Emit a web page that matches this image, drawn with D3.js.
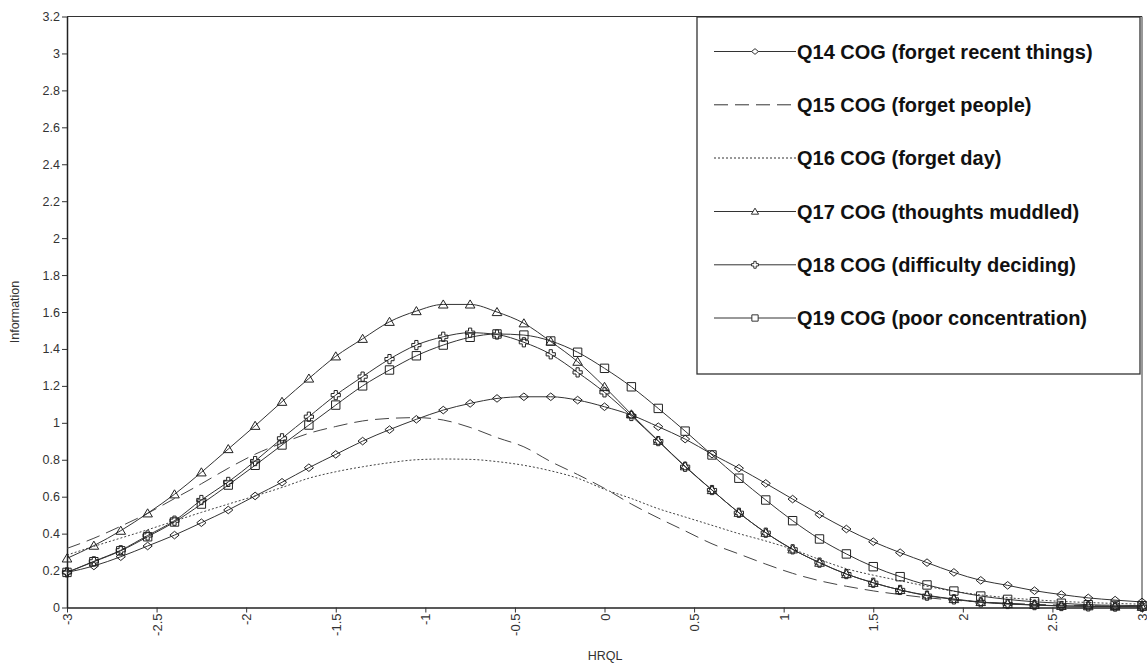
<!DOCTYPE html>
<html>
<head>
<meta charset="utf-8">
<script src="https://cdn.jsdelivr.net/npm/d3@7"></script>
<style>
html,body{margin:0;padding:0;background:#fff;}
svg{display:block;font-family:"Liberation Sans",Arial,sans-serif;}
</style>
</head>
<body>
<svg id="chart" width="1147" height="664"></svg>
<script>
// ---- data ----
const thetas = [-3,-2.85,-2.7,-2.55,-2.4,-2.25,-2.1,-1.95,-1.8,-1.65,-1.5,-1.35,-1.2,-1.05,-0.9,-0.75,-0.6,-0.45,-0.3,-0.15,0,0.15,0.3,0.45,0.6,0.75,0.9,1.05,1.2,1.35,1.5,1.65,1.8,1.95,2.1,2.25,2.4,2.55,2.7,2.85,3];
const q14 = [0.19,0.225,0.275,0.333,0.392,0.459,0.528,0.604,0.678,0.757,0.829,0.901,0.963,1.019,1.069,1.105,1.132,1.141,1.141,1.123,1.087,1.042,0.979,0.912,0.83,0.754,0.672,0.587,0.504,0.425,0.356,0.297,0.243,0.19,0.147,0.12,0.091,0.07,0.052,0.04,0.03];
const q15 = [0.32,0.375,0.44,0.51,0.59,0.67,0.754,0.83,0.89,0.943,0.98,1.01,1.024,1.028,1.015,0.975,0.92,0.87,0.79,0.72,0.645,0.56,0.485,0.415,0.345,0.29,0.235,0.185,0.145,0.115,0.09,0.07,0.053,0.04,0.03,0.023,0.017,0.013,0.01,0.007,0.005];
const q16 = [0.284,0.331,0.376,0.421,0.468,0.515,0.56,0.604,0.65,0.70,0.735,0.762,0.784,0.80,0.804,0.802,0.79,0.77,0.74,0.70,0.64,0.59,0.535,0.49,0.445,0.40,0.36,0.315,0.26,0.21,0.175,0.145,0.115,0.088,0.068,0.053,0.042,0.033,0.027,0.022,0.018];
const q17 = [0.266,0.335,0.416,0.51,0.613,0.732,0.858,0.984,1.114,1.24,1.36,1.455,1.547,1.605,1.641,1.641,1.60,1.539,1.44,1.331,1.195,1.046,0.903,0.765,0.636,0.513,0.405,0.315,0.243,0.181,0.134,0.095,0.066,0.046,0.03,0.02,0.014,0.009,0.007,0.005,0.004];
const q18 = [0.19,0.25,0.31,0.39,0.47,0.582,0.68,0.793,0.916,1.033,1.15,1.25,1.345,1.421,1.466,1.488,1.478,1.436,1.371,1.273,1.165,1.037,0.901,0.762,0.636,0.513,0.405,0.315,0.243,0.181,0.134,0.095,0.064,0.044,0.028,0.019,0.013,0.008,0.006,0.005,0.004];
const q19 = [0.19,0.248,0.307,0.383,0.463,0.56,0.663,0.77,0.88,0.988,1.096,1.2,1.286,1.363,1.421,1.463,1.481,1.475,1.443,1.382,1.295,1.195,1.078,0.955,0.826,0.70,0.582,0.47,0.371,0.29,0.221,0.167,0.122,0.089,0.062,0.044,0.031,0.023,0.015,0.012,0.01];
const seriesNames = ["Q14 COG (forget recent things)","Q15 COG (forget people)","Q16 COG (forget day)","Q17 COG (thoughts muddled)","Q18 COG (difficulty deciding)","Q19 COG (poor concentration)"];
const xTicks = [-3,-2.5,-2,-1.5,-1,-0.5,0,0.5,1,1.5,2,2.5,3];
const yTicks = [0,0.2,0.4,0.6,0.8,1,1.2,1.4,1.6,1.8,2,2.2,2.4,2.6,2.8,3,3.2];
const xLabel = "HRQL";
const yLabel = "Information";

// ---- styles ----
const styles = [
  {marker:"diamond", dash:null},
  {marker:null, dash:"14,7"},
  {marker:null, dash:"2,2"},
  {marker:"triangle", dash:null},
  {marker:"cross", dash:null},
  {marker:"square", dash:null}
];
const series = [q14,q15,q16,q17,q18,q19];

const svg = d3.select("#chart");
const x = d3.scaleLinear().domain([-3,3]).range([67,1142]);
const y = d3.scaleLinear().domain([0,3.2]).range([607.5,16.5]);

function markerPath(type, s){
  s = s || 1;
  if(type==="diamond"){const w=4.6*s,h=3.8*s;return `M${-w},0L0,${-h}L${w},0L0,${h}Z`;}
  if(type==="triangle"){const w=4.8*s,h=4.5*s;return `M0,${-h}L${w},${h*0.8}L${-w},${h*0.8}Z`;}
  if(type==="square"){const a=4.2*s;return `M${-a},${-a}H${a}V${a}H${-a}Z`;}
  if(type==="cross"){const a=4.6*s,b=1.6*s;return `M${-b},${-a}H${b}V${-b}H${a}V${b}H${b}V${a}H${-b}V${b}H${-a}V${-b}H${-b}Z`;}
  return "";
}

// frame
const frame = svg.append("g");
frame.append("line").attr("x1",x(-3)).attr("x2",x(3)).attr("y1",y(3.2)).attr("y2",y(3.2)).attr("stroke","#333");
frame.append("line").attr("x1",x(3)).attr("x2",x(3)).attr("y1",y(3.2)).attr("y2",y(0)).attr("stroke","#333");

// axes
const xAxis = svg.append("g").attr("transform",`translate(0,${y(0)})`)
  .call(d3.axisBottom(x).tickValues(xTicks).tickSize(5).tickSizeOuter(0).tickFormat(d=>String(d)));
xAxis.select(".domain").attr("stroke","#222").attr("stroke-width",1.5);
xAxis.selectAll(".tick line").attr("stroke","#333");
xAxis.selectAll(".tick text")
  .attr("transform","rotate(-90)")
  .attr("x",-6).attr("y",0).attr("dy","0.35em")
  .attr("text-anchor","end")
  .attr("font-size",13).attr("fill","#333").attr("font-family","Liberation Sans, Arial, sans-serif");

const yAxis = svg.append("g").attr("transform",`translate(${x(-3)},0)`)
  .call(d3.axisLeft(y).tickValues(yTicks).tickSize(5).tickSizeOuter(0).tickFormat(d=>String(+d.toFixed(1))));
yAxis.select(".domain").attr("stroke","#222").attr("stroke-width",1.5);
yAxis.selectAll(".tick line").attr("stroke","#333");
yAxis.selectAll(".tick text").attr("font-size",12.5).attr("fill","#333").attr("x",-7)
  .attr("font-family","Liberation Sans, Arial, sans-serif");

svg.append("text").attr("x",605).attr("y",660).attr("text-anchor","middle")
  .attr("font-size",12.5).attr("fill","#333").text(xLabel);
svg.append("text").attr("transform","translate(19,312) rotate(-90)").attr("text-anchor","middle")
  .attr("font-size",12.5).attr("fill","#333").text(yLabel);

// lines
const line = d3.line().x((d,i)=>x(thetas[i])).y(d=>y(d)).curve(d3.curveMonotoneX);
const plot = svg.append("g");
series.forEach((vals,k)=>{
  const st = styles[k];
  plot.append("path").datum(vals).attr("d",line)
    .attr("fill","none").attr("stroke",st.marker?"#333":"#444").attr("stroke-width",1)
    .attr("stroke-dasharray",st.dash);
});
series.forEach((vals,k)=>{
  const st = styles[k];
  if(!st.marker) return;
  plot.append("g").selectAll("path").data(vals).join("path")
    .attr("transform",(d,i)=>`translate(${x(thetas[i])},${y(d)})`)
    .attr("d",markerPath(st.marker,1))
    .attr("fill","none").attr("stroke","#222").attr("stroke-width",1);
});

// legend
const lg = svg.append("g");
lg.append("rect").attr("x",697).attr("y",17).attr("width",443).attr("height",357)
  .attr("fill","#fff").attr("stroke","#333").attr("stroke-width",1.3);
const rowY = [51.5,104.8,158,211.5,264.8,318];
seriesNames.forEach((name,k)=>{
  const st = styles[k];
  const g = lg.append("g");
  g.append("line").attr("x1",714).attr("x2",796).attr("y1",rowY[k]).attr("y2",rowY[k])
    .attr("stroke","#333").attr("stroke-width",1).attr("stroke-dasharray",st.dash);
  if(st.marker){
    g.append("path").attr("transform",`translate(755,${rowY[k]})`)
      .attr("d",markerPath(st.marker,0.75)).attr("fill","#fff").attr("stroke","#333").attr("stroke-width",1);
  }
  g.append("text").attr("x",797).attr("y",rowY[k]).attr("dy","0.35em")
    .attr("font-size",20).attr("font-weight","bold").attr("fill","#111").text(name);
});
</script>
</body>
</html>
